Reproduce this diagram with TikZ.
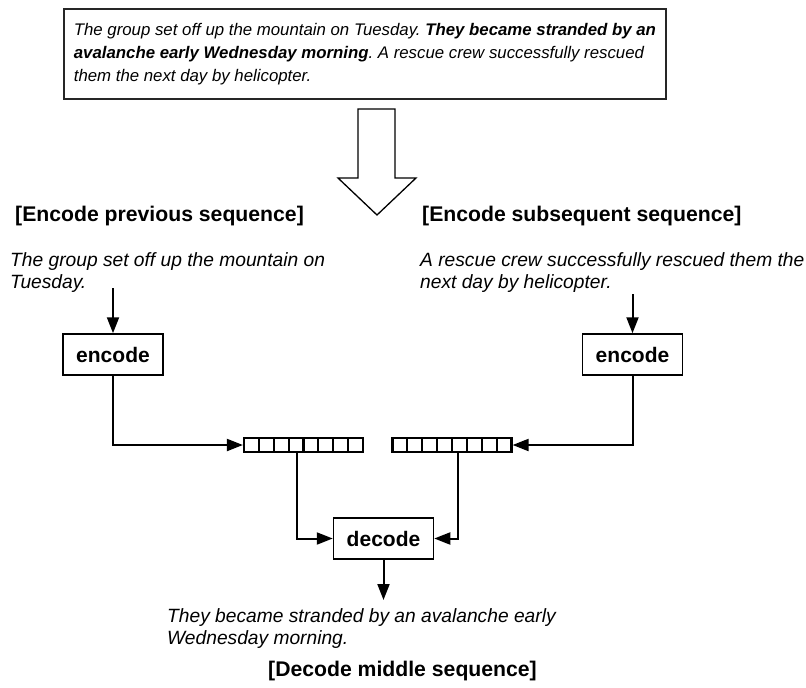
\documentclass[tikz,border=0pt]{standalone}
\usepackage{fontspec}
\setmainfont{Liberation Sans}
\usetikzlibrary{arrows.meta}
\begin{document}
\frenchspacing
\begin{tikzpicture}[x=1pt,y=-1pt,
  txt/.style={font=\fontsize{19.2}{22.5}\selectfont\itshape, inner sep=0pt, align=left},
  hdr/.style={font=\fontsize{21.2}{25}\selectfont\bfseries, inner sep=0pt},
  proc/.style={draw, line width=1.5pt, font=\fontsize{21}{25}\selectfont\bfseries,
    minimum width=100pt, minimum height=41pt, inner sep=0pt},
  vec/.style={draw, line width=2.2pt, minimum width=119pt, minimum height=14pt, inner sep=0pt,
    path picture={\foreach \i in {1,...,7}
      \draw[line width=2.2pt]
        ([xshift=\i*14.875pt]path picture bounding box.north west) --
        ([xshift=\i*14.875pt]path picture bounding box.south west);}},
  link/.style={line width=2pt, -{Triangle[length=16pt,width=12pt]}},
]
\useasboundingbox (0,0) rectangle (806,688);

% story paragraph
\node[draw=black!85, line width=1.8pt, anchor=north west, minimum width=602pt,
  minimum height=90pt, inner sep=0pt, align=left,
  font=\fontsize{16.8}{23}\selectfont\itshape] (story) at (63,8)
  {The group set off up the mountain on Tuesday. \textbf{They became stranded by an}\\
   \textbf{avalanche early Wednesday morning}. A rescue crew successfully rescued\\
   them the next day by helicopter.};

% big hollow arrow
\draw[line width=1.3pt] (358,109) -- (395,109) -- (395,178) -- (416,178) -- (377,215)
  -- (338,178) -- (358,178) -- cycle;

% headings
\node[hdr, anchor=west] (hprev) at (15,216) {[Encode previous sequence]};
\node[hdr, anchor=west] (hsub) at (422,216) {[Encode subsequent sequence]};
\node[hdr] (hmid) at (402.5,671) {[Decode middle sequence]};

% sentences
\node[txt, anchor=north west] (tprev) at (10,252) {The group set off up the mountain on\\Tuesday.};
\node[txt, anchor=north west] (tsub) at (420,252) {A rescue crew successfully rescued them the\\next day by helicopter.};
\node[txt, anchor=north west] (tmid) at (167,608) {They became stranded by an avalanche early\\Wednesday morning.};

% encoders, vectors, decoder
\node[proc] (encL) at (113,354.5) {encode};
\node[proc] (encR) at (632.5,354.5) {encode};
\node[vec] (vecL) at (303.5,445) {};
\node[vec] (vecR) at (452,445) {};
\node[proc] (dec) at (383.5,538.5) {decode};

% connectors
\coordinate (inL) at (113,288);
\coordinate (inR) at (632.5,294);
\coordinate (outD) at (383.5,600);
\draw[link] (inL) -- (encL.north);
\draw[link] (inR) -- (encR.north);
\draw[link] (encL.south) |- (vecL.west);
\draw[link] (encR.south) |- (vecR.east);
\draw[link] ([xshift=-6.5pt]vecL.south) |- (dec.west);
\draw[link] ([xshift=6pt]vecR.south) |- (dec.east);
\draw[link] (dec.south) -- (outD);
\end{tikzpicture}
\end{document}
